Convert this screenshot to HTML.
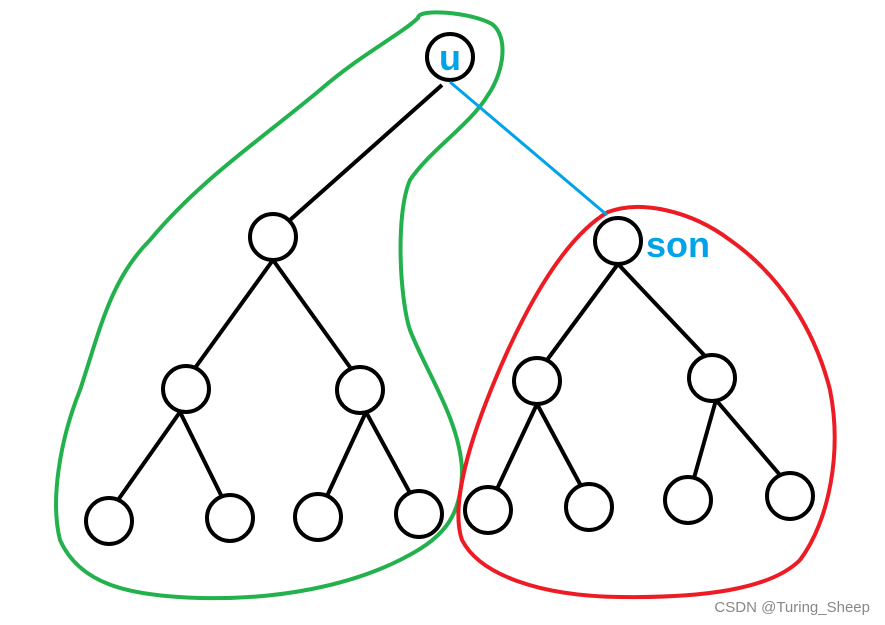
<!DOCTYPE html>
<html><head><meta charset="utf-8"><style>
body{margin:0;background:#fff;}
svg{display:block;}
</style></head><body>
<svg width="885" height="625" viewBox="0 0 885 625" xmlns="http://www.w3.org/2000/svg">
<rect width="885" height="625" fill="#fff"/>
<path d="M418,18 C418,8 470,12 492,24 C508,36 505,70 488,95 C470,125 430,150 410,180 C395,215 400,300 410,330 C425,370 460,420 462,470 C462,520 440,540 400,560 C350,585 280,600 200,598 C130,596 80,585 60,540 C50,500 60,440 80,390 C100,330 110,280 150,240 C200,180 260,140 320,90 C360,55 400,35 418,18 Z" fill="none" stroke="#22b14c" stroke-width="4"/>
<path d="M608,212 C640,200 690,210 730,240 C780,275 815,330 830,390 C842,450 830,520 800,560 C770,590 700,598 620,597 C540,596 480,575 462,540 C450,505 470,440 495,380 C520,320 560,240 608,212 Z" fill="none" stroke="#ed1c24" stroke-width="4"/>
<g stroke="#000" stroke-width="4" fill="none">
<line x1="442" y1="85" x2="290" y2="220"/>
<line x1="273" y1="260" x2="195" y2="368"/>
<line x1="273" y1="260" x2="352" y2="370"/>
<line x1="180" y1="412" x2="118" y2="500"/>
<line x1="180" y1="412" x2="222" y2="497"/>
<line x1="366" y1="412" x2="327" y2="496"/>
<line x1="366" y1="412" x2="410" y2="493"/>
<line x1="618" y1="264" x2="547" y2="360"/>
<line x1="618" y1="264" x2="705" y2="356"/>
<line x1="537" y1="404" x2="497" y2="489"/>
<line x1="537" y1="404" x2="581" y2="486"/>
<line x1="716" y1="400" x2="694" y2="478"/>
<line x1="716" y1="400" x2="780" y2="475"/>
<circle cx="450" cy="57" r="23"/>
<circle cx="273" cy="237" r="23"/>
<circle cx="618" cy="241" r="23"/>
<circle cx="186" cy="389" r="23"/>
<circle cx="360" cy="390" r="23"/>
<circle cx="537" cy="381" r="23"/>
<circle cx="712" cy="378" r="23"/>
<circle cx="109" cy="521" r="23"/>
<circle cx="230" cy="518" r="23"/>
<circle cx="318" cy="517" r="23"/>
<circle cx="419" cy="514" r="23"/>
<circle cx="488" cy="510" r="23"/>
<circle cx="589" cy="507" r="23"/>
<circle cx="688" cy="500" r="23"/>
<circle cx="790" cy="496" r="23"/>
</g>
<line x1="450" y1="82" x2="607" y2="215" stroke="#00a2e8" stroke-width="3"/>
<text x="450" y="70" text-anchor="middle" font-family="Liberation Sans, sans-serif" font-weight="bold" font-size="36" fill="#00a2e8">u</text>
<text x="646" y="257" font-family="Liberation Sans, sans-serif" font-weight="bold" font-size="36" fill="#00a2e8">son</text>
<text x="870" y="612" text-anchor="end" font-family="Liberation Sans, sans-serif" font-size="15" fill="#888">CSDN @Turing_Sheep</text>
</svg>
</body></html>
